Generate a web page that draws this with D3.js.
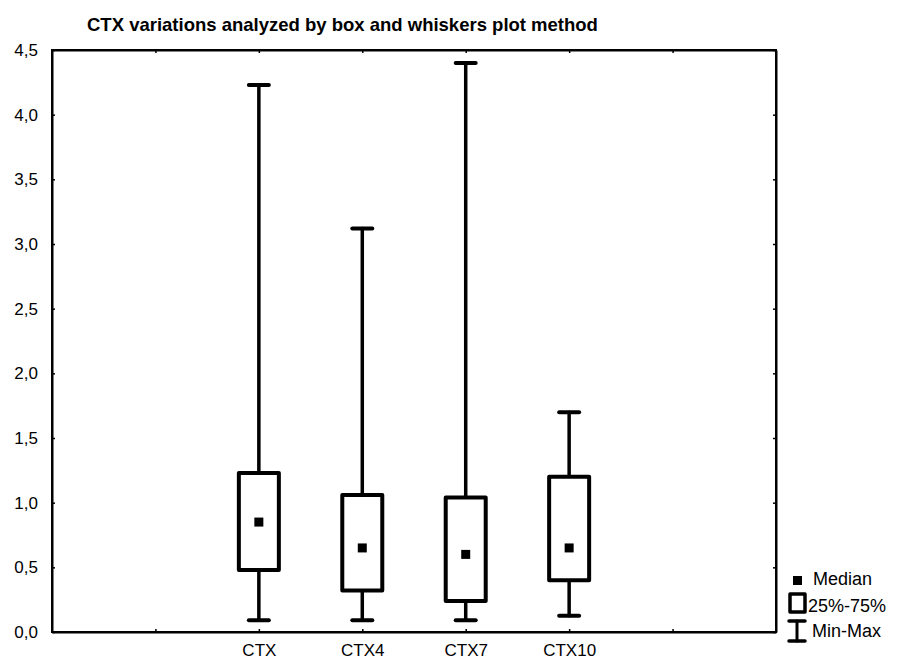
<!DOCTYPE html>
<html lang="en">
<head>
<meta charset="UTF-8">
<title>CTX box and whiskers</title>
<script src="https://d3js.org/d3.v7.min.js"></script>
<style>
  body { margin: 0; background: #fff; }
  text { font-family: Arial, "Liberation Sans", sans-serif; fill: #000; }
</style>
</head>
<body>
<svg id="chart" width="898" height="660"></svg>
<script>
// data
const groups = ["CTX", "CTX4", "CTX7", "CTX10"];
const minVals = [0.09, 0.09, 0.09, 0.125];
const q1Vals = [0.48, 0.32, 0.24, 0.40];
const medians = [0.85, 0.65, 0.60, 0.65];
const q3Vals = [1.23, 1.06, 1.04, 1.20];
const maxVals = [4.23, 3.12, 4.40, 1.70];
const yTicks = [0, 0.5, 1, 1.5, 2, 2.5, 3, 3.5, 4, 4.5];

const svg = d3.select("#chart");
const plotL = 52, plotR = 776, plotT = 50, plotB = 632;

// statistica style: 7 slots, groups sit on slots 2..5
const x = d3.scaleLinear().domain([0, 7]).range([plotL, plotR]);
const y = d3.scaleLinear().domain([0, 4.5]).range([plotB, plotT]);
const fmt = d => d3.format(".1f")(d).replace(".", ",");
const slotTicks = [1, 2, 3, 4, 5, 6];
const slotLabel = i => groups[i - 2] || "";

// title
svg.append("text")
  .attr("x", 87).attr("y", 31)
  .style("font-size", "18.5px").style("font-weight", "bold")
  .text("CTX variations analyzed by box and whiskers plot method");

// axes, ticks pointing inward
svg.append("g").attr("transform", `translate(${plotL},0)`)
  .call(d3.axisLeft(y).tickValues(yTicks).tickFormat(fmt).tickSizeInner(-3).tickSizeOuter(0).tickPadding(14))
  .call(g => g.selectAll("text").style("font-size", "17px"));
svg.append("g").attr("transform", `translate(${plotR},0)`)
  .call(d3.axisRight(y).tickValues(yTicks).tickFormat("").tickSizeInner(-3).tickSizeOuter(0));
svg.append("g").attr("transform", `translate(0,${plotB})`)
  .call(d3.axisBottom(x).tickValues(slotTicks).tickFormat(slotLabel).tickSizeInner(-3).tickSizeOuter(0).tickPadding(12))
  .call(g => g.selectAll("text").style("font-size", "17px"));
svg.append("g").attr("transform", `translate(0,${plotT})`)
  .call(d3.axisTop(x).tickValues(slotTicks).tickFormat("").tickSizeInner(-3).tickSizeOuter(0));

svg.selectAll(".domain").attr("stroke", "#000").attr("stroke-width", 2);
svg.selectAll(".tick line").attr("stroke", "#000").attr("stroke-width", 1.5);

// frame
svg.append("rect")
  .attr("x", plotL).attr("y", plotT)
  .attr("width", plotR - plotL).attr("height", plotB - plotT)
  .attr("fill", "none").attr("stroke", "#000").attr("stroke-width", 2);

const boxes = svg.append("g");
const boxW = 40, capW = 20, medS = 9;

groups.forEach((g, i) => {
  const cx = x(i + 2);
  const grp = boxes.append("g")
    .attr("stroke", "#000").attr("stroke-linecap", "round").attr("stroke-linejoin", "round");
  // upper whisker
  grp.append("line").attr("x1", cx).attr("x2", cx)
    .attr("y1", y(maxVals[i])).attr("y2", y(q3Vals[i])).attr("stroke-width", 3.5);
  // lower whisker
  grp.append("line").attr("x1", cx).attr("x2", cx)
    .attr("y1", y(q1Vals[i])).attr("y2", y(minVals[i])).attr("stroke-width", 3.5);
  // caps
  [maxVals[i], minVals[i]].forEach(v => {
    grp.append("line").attr("x1", cx - capW / 2).attr("x2", cx + capW / 2)
      .attr("y1", y(v)).attr("y2", y(v)).attr("stroke-width", 4);
  });
  // box
  grp.append("rect")
    .attr("x", cx - boxW / 2).attr("y", y(q3Vals[i]))
    .attr("width", boxW).attr("height", y(q1Vals[i]) - y(q3Vals[i]))
    .attr("fill", "#fff").attr("stroke-width", 4);
  // median
  boxes.append("rect")
    .attr("x", cx - medS / 2).attr("y", y(medians[i]) - medS / 2)
    .attr("width", medS).attr("height", medS).attr("fill", "#000");
});

// legend
const lg = svg.append("g");
lg.append("rect").attr("x", 793).attr("y", 576).attr("width", 9).attr("height", 9).attr("fill", "#000");
lg.append("text").attr("x", 813).attr("y", 585).style("font-size", "18px").text("Median");
lg.append("rect").attr("x", 790).attr("y", 594).attr("width", 15).attr("height", 18)
  .attr("fill", "#fff").attr("stroke", "#000").attr("stroke-width", 3.5).attr("stroke-linejoin", "round");
lg.append("text").attr("x", 808).attr("y", 612).style("font-size", "18px").text("25%-75%");
const wl = lg.append("g").attr("stroke", "#000").attr("stroke-linecap", "round");
wl.append("line").attr("x1", 797).attr("x2", 797).attr("y1", 621).attr("y2", 641).attr("stroke-width", 3);
wl.append("line").attr("x1", 789).attr("x2", 805).attr("y1", 621).attr("y2", 621).attr("stroke-width", 3.5);
wl.append("line").attr("x1", 789).attr("x2", 805).attr("y1", 641).attr("y2", 641).attr("stroke-width", 3.5);
lg.append("text").attr("x", 812).attr("y", 637).style("font-size", "18px").text("Min-Max");
</script>
</body>
</html>
